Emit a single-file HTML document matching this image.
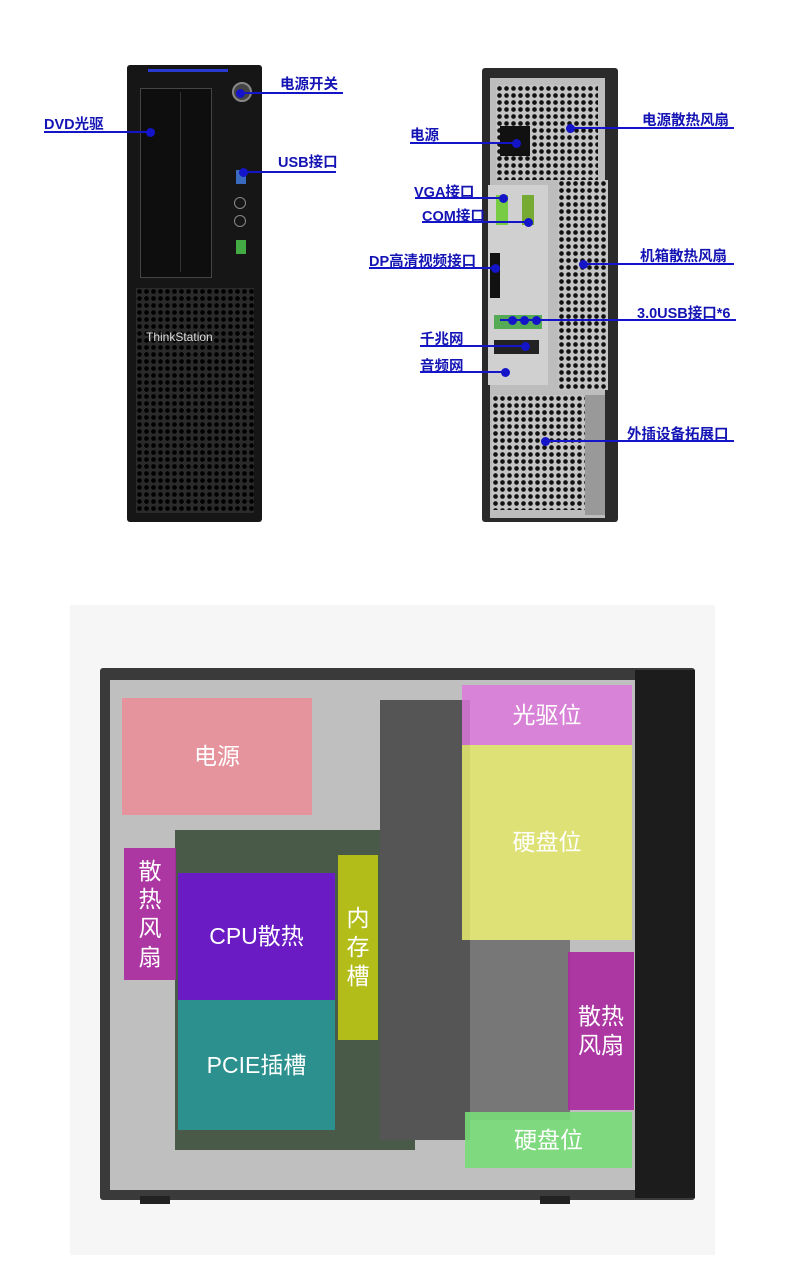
<!DOCTYPE html>
<html><head><meta charset="utf-8"><style>
body{margin:0;width:790px;height:1288px;background:#fff;position:relative;overflow:hidden;font-family:"Liberation Sans","Noto Sans CJK SC",sans-serif}
.a{position:absolute}
.l{position:absolute;color:#1414b4;font-weight:bold;font-size:14.5px;white-space:nowrap}
.ln{position:absolute;height:1.5px;background:#1414c8}
.d{position:absolute;width:9px;height:9px;border-radius:50%;background:#1414c8;margin:-4px 0 0 -4px}
.grille{background-color:#2a2a2a;background-image:radial-gradient(circle,#000 2px,transparent 2.6px);background-size:7px 7px}
.grille2{background-color:#c4c4c4;background-image:radial-gradient(circle,#111 2px,transparent 2.6px);background-size:7px 7px}
.ov{position:absolute;color:#fff;font-size:23px;display:flex;align-items:center;justify-content:center;text-align:center;line-height:1.25}
</style></head><body>
<!-- front tower -->
<div class="a" style="left:127px;top:65px;width:135px;height:457px;background:#161616;border-radius:3px"></div>
<div class="a" style="left:148px;top:69px;width:80px;height:3px;background:#2a3ad0"></div>
<div class="a" style="left:140px;top:88px;width:70px;height:188px;background:#0e0e0e;border:1px solid #444"></div>
<div class="a" style="left:180px;top:92px;width:1px;height:180px;background:#333"></div>
<div class="a" style="left:232px;top:82px;width:16px;height:16px;border-radius:50%;background:#444;border:2px solid #888"></div>
<div class="a" style="left:236px;top:170px;width:10px;height:14px;background:#3a6ac0"></div>
<div class="a" style="left:236px;top:240px;width:10px;height:14px;background:#4a4"></div>
<div class="a" style="left:234px;top:197px;width:10px;height:10px;border-radius:50%;border:1px solid #888"></div>
<div class="a" style="left:234px;top:215px;width:10px;height:10px;border-radius:50%;border:1px solid #888"></div>
<div class="a grille" style="left:136px;top:288px;width:118px;height:225px"></div>
<div class="a" style="left:146px;top:330px;color:#ddd;font-size:12px">ThinkStation</div>
<!-- rear tower -->
<div class="a" style="left:482px;top:68px;width:136px;height:454px;background:#2a2a2a;border-radius:3px"></div>
<div class="a" style="left:490px;top:78px;width:115px;height:440px;background:#bdbdbd"></div>
<div class="a grille2" style="left:496px;top:85px;width:102px;height:95px"></div>
<div class="a" style="left:500px;top:126px;width:30px;height:30px;background:#111"></div>
<div class="a grille2" style="left:558px;top:180px;width:50px;height:210px"></div>
<div class="a" style="left:488px;top:185px;width:60px;height:200px;background:#d0d0d0"></div>
<div class="a" style="left:496px;top:195px;width:12px;height:30px;background:#7c4"></div>
<div class="a" style="left:522px;top:195px;width:12px;height:30px;background:#7a3"></div>
<div class="a" style="left:490px;top:253px;width:10px;height:45px;background:#111"></div>
<div class="a" style="left:494px;top:315px;width:48px;height:14px;background:#5a5"></div>
<div class="a" style="left:494px;top:340px;width:45px;height:14px;background:#222"></div>
<div class="a grille2" style="left:492px;top:395px;width:95px;height:115px"></div>
<div class="a" style="left:585px;top:395px;width:20px;height:120px;background:#999"></div>
<!-- labels -->
<div class="l" style="left:280px;top:73px">电源开关</div><div class="ln" style="left:240px;top:92px;width:103px"></div><div class="d" style="left:240px;top:93px"></div>
<div class="l" style="left:44px;top:113px">DVD光驱</div><div class="ln" style="left:44px;top:131px;width:106px"></div><div class="d" style="left:150px;top:132px"></div>
<div class="l" style="left:278px;top:151px">USB接口</div><div class="ln" style="left:243px;top:171px;width:93px"></div><div class="d" style="left:243px;top:172px"></div>
<div class="l" style="left:410px;top:124px">电源</div><div class="ln" style="left:410px;top:142px;width:106px"></div><div class="d" style="left:516px;top:143px"></div>
<div class="l" style="left:642px;top:109px">电源散热风扇</div><div class="ln" style="left:570px;top:127px;width:164px"></div><div class="d" style="left:570px;top:128px"></div>
<div class="l" style="left:414px;top:181px">VGA接口</div><div class="ln" style="left:415px;top:197px;width:88px"></div><div class="d" style="left:503px;top:198px"></div>
<div class="l" style="left:422px;top:205px">COM接口</div><div class="ln" style="left:422px;top:221px;width:106px"></div><div class="d" style="left:528px;top:222px"></div>
<div class="l" style="left:369px;top:250px">DP高清视频接口</div><div class="ln" style="left:369px;top:267px;width:126px"></div><div class="d" style="left:495px;top:268px"></div>
<div class="l" style="left:640px;top:245px">机箱散热风扇</div><div class="ln" style="left:583px;top:263px;width:151px"></div><div class="d" style="left:583px;top:264px"></div>
<div class="l" style="left:637px;top:302px">3.0USB接口*6</div><div class="ln" style="left:500px;top:319px;width:236px"></div><div class="d" style="left:512px;top:320px"></div><div class="d" style="left:524px;top:320px"></div><div class="d" style="left:536px;top:320px"></div>
<div class="l" style="left:420px;top:328px">千兆网</div><div class="ln" style="left:420px;top:345px;width:105px"></div><div class="d" style="left:525px;top:346px"></div>
<div class="l" style="left:420px;top:355px">音频网</div><div class="ln" style="left:420px;top:371px;width:85px"></div><div class="d" style="left:505px;top:372px"></div>
<div class="l" style="left:627px;top:423px">外插设备拓展口</div><div class="ln" style="left:545px;top:440px;width:189px"></div><div class="d" style="left:545px;top:441px"></div>
<!-- bottom -->
<div class="a" style="left:70px;top:605px;width:645px;height:650px;background:#f6f6f6"></div>
<div class="a" style="left:100px;top:668px;width:595px;height:532px;background:#3a3a3a;border-radius:3px"></div>
<div class="a" style="left:110px;top:680px;width:525px;height:510px;background:#bfbfbf"></div>
<div class="a" style="left:635px;top:670px;width:60px;height:528px;background:#1c1c1c"></div>
<div class="a" style="left:175px;top:830px;width:240px;height:320px;background:#4a5a48"></div>
<div class="a" style="left:380px;top:700px;width:90px;height:440px;background:#555"></div>
<div class="a" style="left:470px;top:940px;width:100px;height:180px;background:#777"></div>
<div class="a" style="left:140px;top:1196px;width:30px;height:8px;background:#222"></div>
<div class="a" style="left:540px;top:1196px;width:30px;height:8px;background:#222"></div>
<div class="ov" style="left:122px;top:698px;width:190px;height:117px;background:rgba(235,140,150,.85)">电源</div>
<div class="ov" style="left:462px;top:685px;width:170px;height:60px;background:rgba(220,120,220,.85)">光驱位</div>
<div class="ov" style="left:462px;top:745px;width:170px;height:195px;background:rgba(225,230,110,.9)">硬盘位</div>
<div class="ov" style="left:124px;top:848px;width:52px;height:132px;background:rgba(170,40,160,.9)">散<br>热<br>风<br>扇</div>
<div class="ov" style="left:178px;top:873px;width:157px;height:127px;background:rgba(110,20,210,.9)">CPU散热</div>
<div class="ov" style="left:338px;top:855px;width:40px;height:185px;background:rgba(190,200,20,.9)">内<br>存<br>槽</div>
<div class="ov" style="left:178px;top:1000px;width:157px;height:130px;background:rgba(40,150,150,.9)">PCIE插槽</div>
<div class="ov" style="left:568px;top:952px;width:66px;height:158px;background:rgba(170,40,160,.9)">散热<br>风扇</div>
<div class="ov" style="left:465px;top:1112px;width:167px;height:56px;background:rgba(120,220,120,.9)">硬盘位</div>
</body></html>
